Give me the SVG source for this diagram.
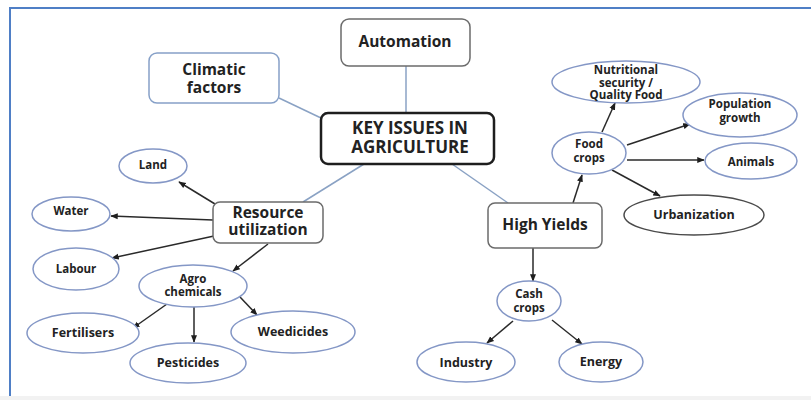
<svg xmlns="http://www.w3.org/2000/svg" width="811" height="400" viewBox="0 0 811 400">
  <style>
    text { font-family: "Open Sans", Lato, "Liberation Sans", sans-serif; font-weight: bold; fill: #222222; text-anchor: middle; }
    .big { font-size: 17px; }
    .mid { font-size: 15.5px; }
    .sm { font-size: 12.5px; }
    .xs { font-size: 11.5px; }
    .oval { fill: #ffffff; stroke: #8497c6; stroke-width: 1.5; }
    .oval-dark { fill: #ffffff; stroke: #4a4a4a; stroke-width: 1.5; }
    .box { fill: #ffffff; stroke: #6b6b6b; stroke-width: 1.5; }
    .box-blue { fill: #ffffff; stroke: #86a0c8; stroke-width: 1.5; }
    .box-key { fill: #ffffff; stroke: #1e1e1e; stroke-width: 2.5; }
    .link { stroke: #8aa2c4; stroke-width: 1.5; fill: none; }
    .arrow { stroke: #2a2a2a; stroke-width: 1.5; fill: none; marker-end: url(#head); }
  </style>
  <defs>
    <marker id="head" viewBox="0 0 10 10" refX="9" refY="5" markerWidth="5" markerHeight="5" orient="auto" markerUnits="strokeWidth">
      <path d="M0,1 L10,5 L0,9 z" fill="#1e1e1e"/>
    </marker>
  </defs>

  <!-- page background and frame -->
  <rect x="0" y="0" width="811" height="400" fill="#ffffff"/>
  <rect x="0" y="396" width="811" height="4" fill="#f2f2f2"/>
  <path d="M10,396 L10,8 L811,8" fill="none" stroke="#4f7fc6" stroke-width="2"/>

  <!-- connectors -->
  <g id="connectors">
    <line class="link" x1="406" y1="66" x2="406" y2="113"/>
    <line class="link" x1="279" y1="98" x2="321" y2="118"/>
    <line class="link" x1="364" y1="164" x2="303" y2="202"/>
    <line class="link" x1="452" y1="164" x2="508" y2="203"/>

    <line class="arrow" x1="215" y1="204" x2="179" y2="182"/>
    <line class="arrow" x1="213" y1="220" x2="111" y2="216"/>
    <line class="arrow" x1="214" y1="236" x2="112" y2="258"/>
    <line class="arrow" x1="268" y1="244" x2="233" y2="271"/>
    <line class="arrow" x1="167" y1="304" x2="133" y2="328"/>
    <line class="arrow" x1="194" y1="307" x2="194" y2="342"/>
    <line class="arrow" x1="240" y1="297" x2="257" y2="315"/>

    <line class="arrow" x1="573" y1="203" x2="582" y2="175"/>
    <line class="arrow" x1="533" y1="248" x2="533" y2="281"/>
    <line class="arrow" x1="602" y1="132" x2="615" y2="103"/>
    <line class="arrow" x1="627" y1="145" x2="690" y2="124"/>
    <line class="arrow" x1="627" y1="160" x2="704" y2="160"/>
    <line class="arrow" x1="612" y1="170" x2="660" y2="196"/>
    <line class="arrow" x1="513" y1="321" x2="487" y2="343"/>
    <line class="arrow" x1="552" y1="320" x2="582" y2="344"/>
  </g>

  <!-- boxes -->
  <g id="automation">
    <rect class="box" x="341" y="19" width="129" height="47" rx="8"/>
    <text class="mid" x="405" y="47">Automation</text>
  </g>
  <g id="climatic-factors">
    <rect class="box-blue" x="149" y="53" width="130" height="50" rx="8"/>
    <text class="mid" x="214" y="75">Climatic</text>
    <text class="mid" x="214" y="93">factors</text>
  </g>
  <g id="key-issues">
    <rect class="box-key" x="321" y="113" width="173" height="51" rx="7"/>
    <text class="big" x="410" y="134">KEY ISSUES IN</text>
    <text class="big" x="410" y="153">AGRICULTURE</text>
  </g>
  <g id="resource-utilization">
    <rect class="box" x="213" y="202" width="110" height="41" rx="7"/>
    <text class="mid" x="268" y="218">Resource</text>
    <text class="mid" x="268" y="235">utilization</text>
  </g>
  <g id="high-yields">
    <rect class="box" x="488" y="203" width="114" height="45" rx="7"/>
    <text class="mid" x="545" y="230">High Yields</text>
  </g>

  <!-- resource branch -->
  <g id="land">
    <ellipse class="oval" cx="153" cy="166" rx="34" ry="17"/>
    <text class="xs" x="153" y="169">Land</text>
  </g>
  <g id="water">
    <ellipse class="oval" cx="71" cy="214" rx="39" ry="17"/>
    <text class="xs" x="71" y="215">Water</text>
  </g>
  <g id="labour">
    <ellipse class="oval" cx="76" cy="269" rx="43" ry="21"/>
    <text class="xs" x="76" y="273">Labour</text>
  </g>
  <g id="agro-chemicals">
    <ellipse class="oval" cx="193" cy="286" rx="54" ry="21"/>
    <text class="xs" x="193" y="283">Agro</text>
    <text class="xs" x="193" y="296">chemicals</text>
  </g>
  <g id="fertilisers">
    <ellipse class="oval" cx="83" cy="333" rx="56" ry="20"/>
    <text class="sm" x="83" y="337">Fertilisers</text>
  </g>
  <g id="pesticides">
    <ellipse class="oval" cx="188" cy="363" rx="58" ry="20"/>
    <text class="sm" x="188" y="367">Pesticides</text>
  </g>
  <g id="weedicides">
    <ellipse class="oval" cx="293" cy="332" rx="62" ry="21"/>
    <text class="sm" x="293" y="336">Weedicides</text>
  </g>

  <!-- yields branch -->
  <g id="food-crops">
    <ellipse class="oval" cx="589" cy="153" rx="37" ry="21"/>
    <text class="xs" x="589" y="148">Food</text>
    <text class="xs" x="589" y="162">crops</text>
  </g>
  <g id="nutritional-security">
    <ellipse class="oval" cx="626" cy="82" rx="74" ry="21"/>
    <text class="xs" x="626" y="74">Nutritional</text>
    <text class="xs" x="626" y="87">security /</text>
    <text class="xs" x="626" y="99">Quality Food</text>
  </g>
  <g id="population-growth">
    <ellipse class="oval" cx="740" cy="115" rx="57" ry="22"/>
    <text class="xs" x="740" y="108">Population</text>
    <text class="xs" x="740" y="122">growth</text>
  </g>
  <g id="animals">
    <ellipse class="oval" cx="751" cy="161" rx="46" ry="18"/>
    <text class="xs" x="751" y="166">Animals</text>
  </g>
  <g id="urbanization">
    <ellipse class="oval-dark" cx="694" cy="215" rx="70" ry="20"/>
    <text class="sm" x="694" y="219">Urbanization</text>
  </g>
  <g id="cash-crops">
    <ellipse class="oval" cx="529" cy="301" rx="32" ry="20"/>
    <text class="xs" x="529" y="298">Cash</text>
    <text class="xs" x="529" y="312">crops</text>
  </g>
  <g id="industry">
    <ellipse class="oval" cx="466" cy="362" rx="49" ry="20"/>
    <text class="sm" x="466" y="367">Industry</text>
  </g>
  <g id="energy">
    <ellipse class="oval" cx="601" cy="362" rx="42" ry="20"/>
    <text class="sm" x="601" y="366">Energy</text>
  </g>
</svg>
